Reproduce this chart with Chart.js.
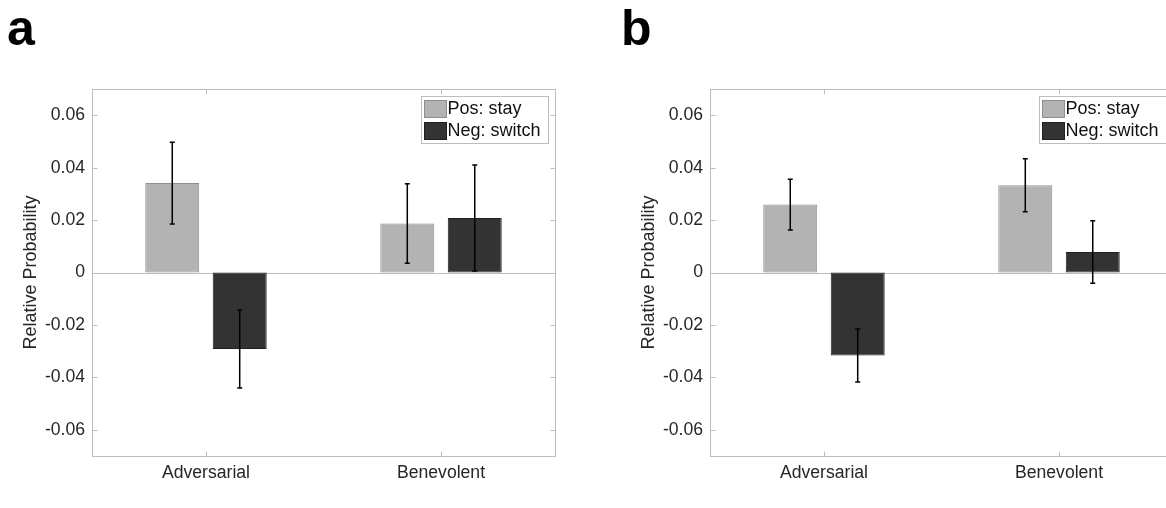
<!DOCTYPE html>
<html>
<head>
<meta charset="utf-8">
<script src="https://cdn.jsdelivr.net/npm/chart.js@4.4.1/dist/chart.umd.min.js"></script>
<style>
  html, body { margin: 0; padding: 0; background: #fff; width: 1166px; height: 508px; overflow: hidden; }
  .letter { position: absolute; top: 3px; font: bold 50px "Liberation Sans", Arial, sans-serif; line-height: 50px; color: #000; }
  canvas { position: absolute; top: 0; }
</style>
</head>
<body>
<div class="letter" style="left:7px">a</div>
<div class="letter" style="left:621px">b</div>
<canvas id="chartA" width="583" height="508" style="left:0"></canvas>
<canvas id="chartB" width="583" height="508" style="left:618px"></canvas>
<script>
const categories = ["Adversarial", "Benevolent"];
const seriesNames = ["Pos: stay", "Neg: switch"];
const yTicks = [-0.06, -0.04, -0.02, 0, 0.02, 0.04, 0.06];

// panel a
const aPos = [0.0341, 0.0187];
const aNeg = [-0.0292, 0.0208];
const aPosErr = [0.0156, 0.0152];
const aNegErr = [0.0149, 0.0202];

// panel b
const bPos = [0.0259, 0.0333];
const bNeg = [-0.0317, 0.0078];
const bPosErr = [0.0097, 0.0101];
const bNegErr = [0.0101, 0.0119];

const FONT = '"Liberation Sans", Arial, Helvetica, sans-serif';
const AXIS_GRAY = "#bdbdbd";
const TEXT = "#262626";

Chart.defaults.font.family = FONT;

// frame, inward ticks on all four sides and the zero baseline (matlab look)
const framePlugin = {
  id: "frame",
  beforeDatasetsDraw(chart) {
    const { ctx, chartArea: a, scales: { x, y } } = chart;
    const L = Math.round(a.left) + 0.5, R = Math.round(a.right) + 0.5;
    const T = Math.round(a.top) + 0.5, B = Math.round(a.bottom) + 0.5;
    ctx.save();
    ctx.strokeStyle = AXIS_GRAY;
    ctx.lineWidth = 1;
    ctx.beginPath();
    const z = Math.round(y.getPixelForValue(0)) + 0.5;
    ctx.moveTo(L, z); ctx.lineTo(R, z);
    x.ticks.forEach(t => {
      const px = Math.round(x.getPixelForValue(t.value)) + 0.5;
      ctx.moveTo(px, B); ctx.lineTo(px, B - 5);
      ctx.moveTo(px, T); ctx.lineTo(px, T + 5);
    });
    y.ticks.forEach(t => {
      const py = Math.round(y.getPixelForValue(t.value)) + 0.5;
      ctx.moveTo(L, py); ctx.lineTo(L + 5, py);
      ctx.moveTo(R, py); ctx.lineTo(R - 5, py);
    });
    ctx.stroke();
    ctx.strokeRect(L, T, R - L, B - T);
    ctx.restore();
  },
  afterDatasetsDraw(chart) {
    const { ctx, chartArea: a, scales: { y } } = chart;
    ctx.save();
    // error bars
    ctx.strokeStyle = "#000";
    ctx.lineWidth = 1.5;
    chart.data.datasets.forEach((ds, i) => {
      chart.getDatasetMeta(i).data.forEach((bar, j) => {
        const v = ds.data[j].y, e = ds.errors[j];
        const y1 = y.getPixelForValue(v + e), y2 = y.getPixelForValue(v - e);
        ctx.beginPath();
        ctx.moveTo(bar.x, y1); ctx.lineTo(bar.x, y2);
        ctx.moveTo(bar.x - 2.5, y1); ctx.lineTo(bar.x + 2.5, y1);
        ctx.moveTo(bar.x - 2.5, y2); ctx.lineTo(bar.x + 2.5, y2);
        ctx.stroke();
      });
    });
    // legend box in the upper right corner
    const bw = 127, bh = 47;
    const bx = Math.round(a.right - 7 - bw) + 0.5, by = Math.round(a.top + 7) + 0.5;
    ctx.fillStyle = "#fff";
    ctx.fillRect(bx, by, bw, bh);
    ctx.strokeStyle = AXIS_GRAY;
    ctx.lineWidth = 1;
    ctx.strokeRect(bx, by, bw, bh);
    ctx.font = "18px " + FONT;
    ctx.textBaseline = "middle";
    chart.data.datasets.forEach((ds, i) => {
      const sy = by + 4 + i * 22;
      ctx.fillStyle = ds.backgroundColor;
      ctx.fillRect(bx + 3, sy, 22, 17);
      ctx.strokeStyle = ds.borderColor;
      ctx.strokeRect(bx + 3, sy, 22, 17);
      ctx.fillStyle = "#111";
      ctx.fillText(ds.label, bx + 26, sy + 9);
    });
    ctx.restore();
  }
};

function makeChart(id, pos, neg, posErr, negErr) {
  return new Chart(document.getElementById(id), {
    type: "bar",
    data: {
      datasets: [
        {
          label: seriesNames[0],
          data: pos.map((v, i) => ({ x: i + 1, y: v })),
          errors: posErr,
          backgroundColor: "#b3b3b3",
          borderColor: "#8e8e8e",
          borderWidth: 1,
          borderSkipped: false,
        },
        {
          label: seriesNames[1],
          data: neg.map((v, i) => ({ x: i + 1, y: v })),
          errors: negErr,
          backgroundColor: "#333333",
          borderColor: "#1f1f1f",
          borderWidth: 1,
          borderSkipped: false,
        },
      ],
    },
    options: {
      responsive: false,
      devicePixelRatio: 1,
      animation: false,
      categoryPercentage: 0.574,
      barPercentage: 0.8,
      layout: { padding: { top: 89, right: 28, left: 0, bottom: 0 } },
      plugins: { legend: { display: false }, tooltip: { enabled: false } },
      scales: {
        x: {
          type: "linear",
          min: 0.515,
          max: 2.485,
          offset: false,
          grid: { display: false, offset: false, drawTicks: false, tickLength: 0 },
          border: { display: false },
          afterBuildTicks: s => { s.ticks = categories.map((c, i) => ({ value: i + 1 })); },
          afterFit: s => { s.height = 52; },
          ticks: {
            callback: v => categories[Math.round(v) - 1],
            autoSkip: false,
            maxRotation: 0,
            padding: 7,
            color: TEXT,
            font: { size: 17.6 },
          },
        },
        y: {
          min: -0.07,
          max: 0.07,
          grid: { display: false, drawTicks: false, tickLength: 0 },
          border: { display: false },
          afterBuildTicks: s => { s.ticks = yTicks.map(v => ({ value: v })); },
          afterFit: s => { s.width = 92; },
          ticks: {
            callback: v => (v === 0 ? "0" : v.toFixed(2)),
            padding: 7,
            color: TEXT,
            font: { size: 17.6 },
          },
          title: {
            display: true,
            text: "Relative Probability",
            color: TEXT,
            font: { size: 18 },
            padding: { top: 20, bottom: 0 },
          },
        },
      },
    },
    plugins: [framePlugin],
  });
}

makeChart("chartA", aPos, aNeg, aPosErr, aNegErr);
makeChart("chartB", bPos, bNeg, bPosErr, bNegErr);
</script>
</body>
</html>
